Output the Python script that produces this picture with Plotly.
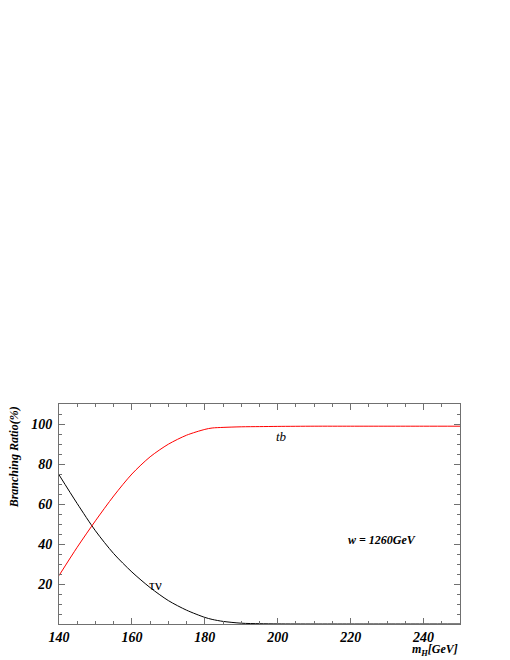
# Branching ratios of charged Higgs vs m_H
import plotly.graph_objects as go

# data
m_h = [140, 145, 150, 155, 160, 165, 170, 175, 180, 182, 185, 190, 195, 200, 210, 220, 230, 240, 250]
br_taunu = [74.6, 60.2, 46.6, 35.2, 26.0, 18.2, 11.7, 6.9, 3.3, 2.3, 1.3, 0.4, 0.15, 0.05, 0.0, 0.0, 0.0, 0.0, 0.0]
br_tb = [24.2, 38.4, 51.6, 64.0, 75.0, 83.6, 89.9, 94.4, 97.3, 98.0, 98.3, 98.6, 98.7, 98.8, 98.9, 98.9, 98.9, 98.9, 98.9]

x_ticks = [140, 160, 180, 200, 220, 240]
y_ticks = [20, 40, 60, 80, 100]

serif = "Liberation Serif"
bi_font = dict(family=serif, size=12, color="black", weight="bold", style="italic")
tick_font = dict(family=serif, size=14, color="black", weight="bold", style="italic")
frame = "#707070"

fig = go.Figure()
fig.add_trace(go.Scatter(x=m_h, y=br_taunu, mode="lines", line=dict(color="black", width=1, shape="spline", smoothing=0.8)))
fig.add_trace(go.Scatter(x=m_h, y=br_tb, mode="lines", line=dict(color="red", width=1, shape="spline", smoothing=0.8)))

axis_common = dict(
    showgrid=False, zeroline=False, showline=True, linecolor=frame, linewidth=1,
    mirror="allticks", ticks="inside", ticklen=6, tickcolor=frame, tickwidth=1,
    tickfont=tick_font,
)

fig.update_xaxes(range=[140, 250], tickvals=x_ticks,
                 minor=dict(dtick=5, tick0=140, ticks="inside", ticklen=3, tickcolor=frame, showgrid=False),
                 **axis_common)
fig.update_yaxes(range=[0, 110], tickvals=y_ticks, ticklabelstandoff=3,
                 minor=dict(dtick=5, tick0=0, ticks="inside", ticklen=3, tickcolor=frame, showgrid=False),
                 **axis_common)

# the page has an 8px body margin, so the figure is a little smaller than the window
fig.add_annotation(text="Branching Ratio(%)", xref="paper", yref="paper", x=-0.11, y=0.757,
                   xanchor="center", yanchor="middle",
                   textangle=-90, showarrow=False, font=bi_font)
fig.add_annotation(text="m<sub>H</sub>[GeV]", xref="paper", yref="paper", x=1.0, y=-0.074,
                   xanchor="right", yanchor="top", showarrow=False, font=bi_font)
fig.add_annotation(text="w = 1260GeV", x=228.7, y=42, showarrow=False, font=bi_font)
fig.add_annotation(text="tb", x=201, y=93.6, showarrow=False,
                   font=dict(family=serif, size=13, color="black", style="italic"))
fig.add_annotation(text="τν", x=166.6, y=19.5, showarrow=False,
                   font=dict(family=serif, size=15, color="black"))

fig.update_layout(
    width=502, height=652, showlegend=False,
    margin=dict(l=51, r=50, t=396, b=36),
    paper_bgcolor="white", plot_bgcolor="white",
)

fig.write_html("out.html")
